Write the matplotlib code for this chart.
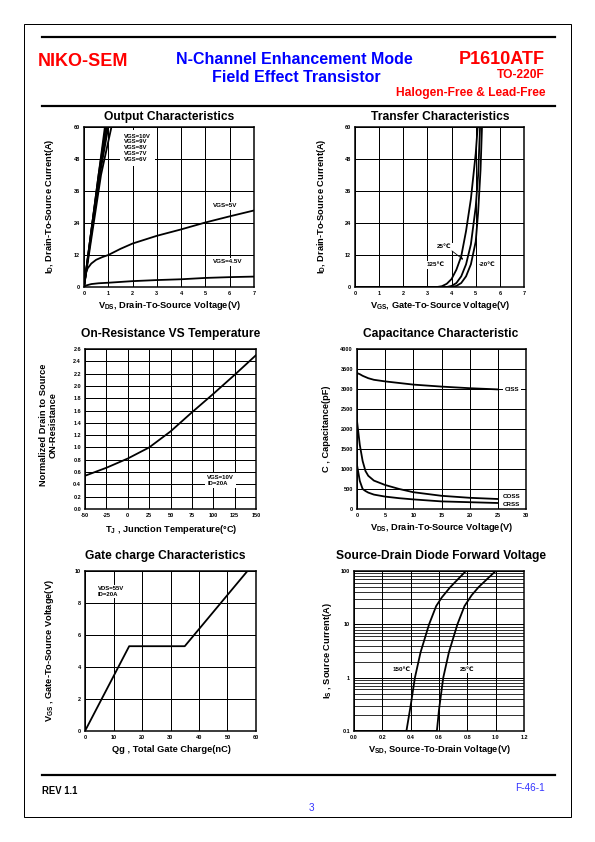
import matplotlib.pyplot as plt
import numpy as np
from matplotlib.patches import Rectangle
from matplotlib.lines import Line2D
from matplotlib.ticker import FixedLocator, FixedFormatter, NullFormatter

plt.rcParams['font.family'] = ['Liberation Sans', 'DejaVu Sans']
plt.rcParams['mathtext.fontset'] = 'custom'
plt.rcParams['mathtext.rm'] = 'Liberation Sans'
plt.rcParams['mathtext.bf'] = 'Liberation Sans:bold'
plt.rcParams['mathtext.default'] = 'bf'

# ---- data ----
# output characteristics
vds_hi = {'10V': [0, 0.3, 0.6, 0.86], '9V': [0, 0.3, 0.6, 0.9],
          '8V': [0, 0.3, 0.62, 0.95], '7V': [0, 0.32, 0.65, 1.0],
          '6V': [0, 0.35, 0.7, 1.13]}
id_hi = [0, 21, 42, 60]
vds_5 = [0, 0.05, 0.15, 0.3, 0.5, 0.75, 1, 1.5, 2, 3, 4, 5, 6, 7]
id_5 = [0, 4.5, 7, 8.8, 10.2, 11.2, 12, 14.3, 16.3, 19.2, 21.6, 24.2, 26.5, 28.7]
vds_45 = [0, 0.1, 0.3, 0.6, 1, 2, 3, 4, 5, 6, 7]
id_45 = [0, 0.6, 1.1, 1.4, 1.6, 2.2, 2.6, 2.9, 3.4, 3.7, 3.9]

# transfer characteristics
vgs_125 = [0, 3.4, 3.6, 3.8, 4.0, 4.2, 4.4, 4.6, 4.8, 5.0, 5.08]
id_125 = [0, 0, 0.3, 1.2, 3, 6.5, 11.5, 21, 33, 50, 60]
vgs_25 = [0, 3.8, 4.0, 4.2, 4.4, 4.6, 4.8, 5.0, 5.1, 5.18]
id_25 = [0, 0, 0.4, 1.5, 4, 8.5, 16, 30, 42, 60]
vgs_m20 = [0, 4.0, 4.2, 4.4, 4.6, 4.8, 5.0, 5.1, 5.2, 5.26]
id_m20 = [0, 0, 0.4, 1.5, 4, 8.5, 17, 28, 44, 60]

# on-resistance vs temperature
tj = [-50, -25, 0, 25, 50, 75, 100, 125, 150]
rds_norm = [0.54, 0.67, 0.82, 1.0, 1.26, 1.57, 1.87, 2.18, 2.5]

# capacitance
vds_c = [0, 0.5, 1, 1.5, 2, 3, 5, 7.5, 10, 15, 20, 25]
ciss = [3400, 3370, 3330, 3300, 3270, 3230, 3190, 3150, 3110, 3060, 3020, 2990]
coss = [2200, 1600, 1200, 950, 830, 710, 600, 500, 420, 330, 280, 250]
crss = [1100, 700, 500, 450, 410, 360, 310, 270, 240, 190, 170, 150]

# gate charge
qg = [0, 15.5, 35, 57]
vgs_qg = [0, 5.3, 5.3, 10]

# source-drain diode
vsd_150 = [0, 0.37, 0.4, 0.43, 0.47, 0.53, 0.58, 0.62, 0.68, 0.79]
is_150 = [0.1, 0.1, 0.3, 1, 3, 10, 22, 32, 50, 100]
vsd_25 = [0, 0.585, 0.6, 0.63, 0.67, 0.73, 0.78, 0.83, 0.88, 1.0]
is_25 = [0.1, 0.1, 0.25, 1, 3, 10, 22, 35, 50, 100]

W, H = 595, 842
fig = plt.figure(figsize=(W / 72, H / 72), dpi=72)


def box(l, t, r, b):
    return [l / W, 1 - b / H, (r - l) / W, (b - t) / H]


def ftext(x, y, s, **kw):
    fig.text(x / W, 1 - y / H, s, **kw)


def style(ax, xlim, ylim, xticks, yticks, xfmt, yfmt):
    ax.set_xlim(*xlim)
    ax.set_ylim(*ylim)
    ax.set_xticks(xticks)
    ax.set_xticklabels([xfmt.format(v) for v in xticks])
    if yticks is not None:
        ax.set_yticks(yticks)
        ax.set_yticklabels([yfmt.format(v) for v in yticks])
    ax.grid(True, color='black', lw=1)
    ax.set_axisbelow(True)
    ax.tick_params(length=0, labelsize=5.5, pad=4)
    for lab in ax.get_xticklabels() + ax.get_yticklabels():
        lab.set_fontweight('bold')
    for sp in ax.spines.values():
        sp.set_linewidth(1.5)


white = dict(facecolor='white', edgecolor='none', pad=1.5)
lab_kw = dict(fontsize=6.3, fontweight='bold', bbox=white)
cw = 1.8

# ---- page frame & header ----
fig.patches.append(Rectangle((24 / W, 1 - 817 / H), 547 / W, 793 / H,
                             transform=fig.transFigure, fill=False, lw=1, ec='black'))
for yy in (36.7, 106, 774.7):
    fig.lines.append(Line2D([42 / W, 555 / W], [1 - yy / H] * 2,
                            transform=fig.transFigure, color='black', lw=2.2))

ftext(38, 62, 'NIKO-SEM', color='#ff0000', fontsize=18, fontweight='bold', va='center')
ftext(294, 60, 'N-Channel Enhancement Mode', color='#0000ff', fontsize=16,
      fontweight='bold', ha='center', va='center')
ftext(296, 78, 'Field Effect Transistor', color='#0000ff', fontsize=16,
      fontweight='bold', ha='center', va='center')
ftext(545, 59, 'P1610ATF', color='#ff0000', fontsize=18, fontweight='bold',
      ha='right', va='center')
ftext(545, 75, 'TO-220F', color='#ff0000', fontsize=12, fontweight='bold',
      ha='right', va='center')
ftext(545, 93, 'Halogen-Free & Lead-Free', color='#ff0000', fontsize=12,
      fontweight='bold', ha='right', va='center')

ftext(42, 791, 'REV 1.1', fontsize=9.5, fontweight='bold', va='center')
ftext(545, 788, 'F-46-1', color='#3333ff', fontsize=10, ha='right', va='center')
ftext(311, 808, '3', color='#3333ff', fontsize=10, ha='center', va='center')

tfont = dict(fontsize=12, fontweight='bold', ha='center', va='center')
afont = dict(fontsize=9.3, fontweight='bold', ha='center', va='center')

# ---- 1: output characteristics ----
ax = fig.add_axes(box(84, 127, 254, 287))
for k in vds_hi:
    ax.plot(vds_hi[k], id_hi, color='black', lw=cw)
ax.plot(vds_5, id_5, color='black', lw=cw)
ax.plot(vds_45, id_45, color='black', lw=cw)
style(ax, (0, 7), (0, 60), range(0, 8), range(0, 61, 12), '{}', '{}')
ax.text(1.65, 57.5, 'VGS=10V\nVGS=9V\nVGS=8V\nVGS=7V\nVGS=6V', va='top',
        linespacing=1.2, fontsize=6, fontweight='bold',
        bbox=dict(facecolor='white', edgecolor='none', pad=4))
ax.text(5.3, 30.4, 'VGS=5V', va='center', **lab_kw)
ax.text(5.3, 9.4, 'VGS=4.5V', va='center', **lab_kw)
ftext(169, 117, 'Output Characteristics', **tfont)
ftext(169, 306, 'V$_{DS}$, Drain-To-Source Voltage(V)', **afont)
ftext(50, 206, 'I$_D$, Drain-To-Source Current(A)', rotation=90, **afont)

# ---- 2: transfer characteristics ----
ax = fig.add_axes(box(355, 127, 524, 287))
ax.plot(vgs_125, id_125, color='black', lw=cw)
ax.plot(vgs_25, id_25, color='black', lw=cw)
ax.plot(vgs_m20, id_m20, color='black', lw=cw)
style(ax, (0, 7), (0, 60), range(0, 8), range(0, 61, 12), '{}', '{}')
ax.text(3.4, 15, '25℃', va='center', **lab_kw)
ax.annotate('', xy=(4.55, 9.8), xytext=(3.95, 14),
            arrowprops=dict(arrowstyle='-|>', color='black', lw=0.8, mutation_scale=5))
ax.text(2.95, 8.3, '125℃', va='center', **lab_kw)
ax.text(5.13, 8.6, '-20℃', va='center', **lab_kw)
ftext(440, 117, 'Transfer Characteristics', **tfont)
ftext(440, 306, 'V$_{GS}$, Gate-To-Source Voltage(V)', **afont)
ftext(322, 206, 'I$_D$, Drain-To-Source Current(A)', rotation=90, **afont)

# ---- 3: on-resistance vs temperature ----
ax = fig.add_axes(box(85, 349, 256, 509))
ax.plot(tj, rds_norm, color='black', lw=cw)
style(ax, (-50, 150), (0, 2.6), range(-50, 151, 25), np.arange(0, 2.61, 0.2),
      '{}', '{:.1f}')
ax.text(93, 0.46, 'VGS=10V\nID=20A', va='center', linespacing=1.2,
        fontsize=6, fontweight='bold', bbox=dict(facecolor='white', edgecolor='none', pad=2))
ftext(171, 334, 'On-Resistance VS Temperature', **tfont)
ftext(171, 530, 'T$_J$ , Junction Temperature(°C)', **afont)
ftext(48, 425, 'Normalized Drain to Source\nON-Resistance', rotation=90,
      linespacing=1.05, **afont)

# ---- 4: capacitance ----
ax = fig.add_axes(box(357, 349, 526, 509))
ax.plot(vds_c, ciss, color='black', lw=cw)
ax.plot(vds_c, coss, color='black', lw=cw)
ax.plot(vds_c, crss, color='black', lw=cw)
style(ax, (0, 30), (0, 4000), range(0, 31, 5), range(0, 4001, 500), '{}', '{}')
ax.text(26.2, 3000, 'CISS', va='center', **lab_kw)
ax.text(25.8, 300, 'COSS', va='center', fontsize=6.3, fontweight='bold')
ax.text(25.8, 110, 'CRSS', va='center', fontsize=6.3, fontweight='bold')
ftext(441, 334, 'Capacitance Characteristic', **tfont)
ftext(441, 528, 'V$_{DS}$, Drain-To-Source Voltage(V)', **afont)
ftext(326, 429, 'C , Capacitance(pF)', rotation=90, **afont)

# ---- 5: gate charge ----
ax = fig.add_axes(box(85, 571, 256, 731))
ax.plot(qg, vgs_qg, color='black', lw=cw)
style(ax, (0, 60), (0, 10), range(0, 61, 10), range(0, 11, 2), '{}', '{}')
ax.text(4.5, 8.7, 'VDS=55V\nID=20A', va='center', linespacing=1.2,
        fontsize=6, fontweight='bold', bbox=dict(facecolor='white', edgecolor='none', pad=1))
ftext(165, 556, 'Gate charge Characteristics', **tfont)
ftext(171, 750, 'Qg , Total Gate Charge(nC)', **afont)
ftext(50, 651, 'V$_{GS}$ , Gate-To-Source Voltage(V)', rotation=90, **afont)

# ---- 6: source-drain diode ----
ax = fig.add_axes(box(354, 571, 524, 731))
ax.plot(vsd_150, is_150, color='black', lw=cw)
ax.plot(vsd_25, is_25, color='black', lw=cw)
ax.set_yscale('log')
style(ax, (0, 1.2), (0.1, 100), np.arange(0, 1.21, 0.2), None, '{:.1f}', '')
ax.yaxis.set_major_locator(FixedLocator([0.1, 1, 10, 100]))
ax.yaxis.set_major_formatter(FixedFormatter(['0.1', '1', '10', '100']))
minors = [m * d for d in (0.1, 1, 10) for m in range(2, 10)]
ax.yaxis.set_minor_locator(FixedLocator(minors))
ax.yaxis.set_minor_formatter(NullFormatter())
ax.grid(True, which='minor', axis='y', color='black', lw=0.8)
ax.tick_params(which='both', length=0, labelsize=5.5, pad=4)
for lab in ax.get_yticklabels():
    lab.set_fontweight('bold')
ax.text(0.27, 1.45, '150℃', va='center', **lab_kw)
ax.text(0.745, 1.45, '25℃', va='center', **lab_kw)
ftext(441, 556, 'Source-Drain Diode Forward Voltage', **tfont)
ftext(439, 750, 'V$_{SD}$, Source-To-Drain Voltage(V)', **afont)
ftext(328, 651, 'I$_S$ , Source Current(A)', rotation=90, **afont)

fig.savefig('out.png', dpi=72)
